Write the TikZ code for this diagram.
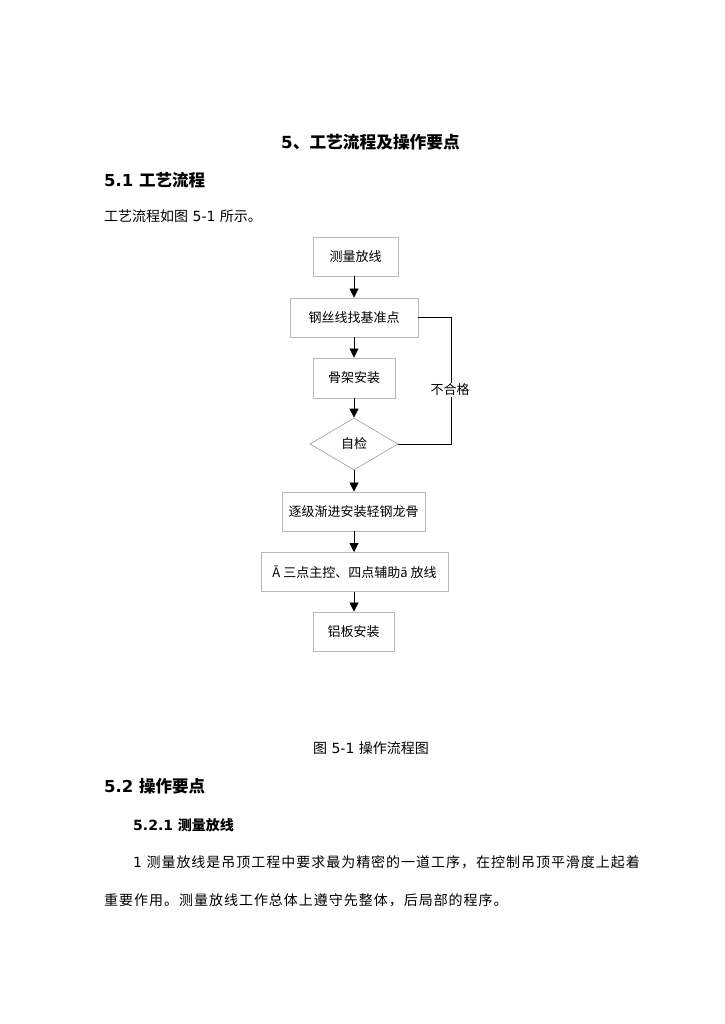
\documentclass[tikz,border=0pt]{standalone}
\usepackage{fontspec}
\setmainfont{DejaVu Sans}
\newfontfamily\cjk{Noto Sans CJK SC}
\newfontfamily\cjkp[LetterSpace=7]{Noto Sans CJK SC}
\usetikzlibrary{arrows.meta,shapes.geometric}
\begin{document}
\begin{tikzpicture}[x=1pt,y=-1pt,
  stepbox/.style={draw=black!28,line width=0.9pt,rectangle,minimum height=39pt,inner sep=0pt,font=\fontsize{13}{15}\selectfont\cjk},
  decbox/.style={draw=black!35,line width=0.7pt,diamond,minimum width=88pt,minimum height=52pt,inner sep=0pt,font=\fontsize{13}{15}\selectfont\cjk},
  flow/.style={draw=black,line width=0.8pt,-{Triangle[width=9pt,length=9pt]}},
  loopline/.style={draw=black,line width=0.8pt},
  heading/.style={anchor=west,inner sep=0pt},
  body/.style={anchor=west,inner sep=0pt,font=\fontsize{14}{16}\selectfont}]
\useasboundingbox[fill=white] (0,0) rectangle (724,1024);
% texts
\node[inner sep=0pt,font=\fontsize{16.7}{18}\selectfont\bfseries] (title) at (370.5,142) {5{\cjk\bfseries 、工艺流程及操作要点}};
\node[heading,font=\fontsize{16.5}{18}\selectfont\bfseries] (h51) at (104,180) {5.1 {\cjk\bfseries 工艺流程}};
\node[body] (p1) at (104,216) {{\cjk 工艺流程如图} 5-1 {\cjk 所示。}};
% flowchart
\node[stepbox,minimum width=85pt] (b1) at (355.5,256.5) {测量放线};
\node[stepbox,minimum width=128pt] (b2) at (354,317.5) {钢丝线找基准点};
\node[stepbox,minimum width=82pt,minimum height=40pt] (b3) at (354,378) {骨架安装};
\node[decbox] (d4) at (354,444) {自检};
\node[stepbox,minimum width=143pt] (b5) at (353.5,511.5) {逐级渐进安装轻钢龙骨};
\node[stepbox,minimum width=187pt] (b6) at (354.5,572) {Ā 三点主控、四点辅助ā 放线};
\node[stepbox,minimum width=81pt] (b7) at (353.5,631.5) {铝板安装};
\draw[flow] (b1.south -| d4) -- (b2.north -| d4);
\draw[flow] (b2.south -| d4) -- (b3.north -| d4);
\draw[flow] (b3.south -| d4) -- (d4.north);
\draw[flow] (d4.south) -- (b5.north -| d4);
\draw[flow] (b5.south -| d4) -- (b6.north -| d4);
\draw[flow] (b6.south -| d4) -- (b7.north -| d4);
\coordinate (c1) at (451,317.5);
\coordinate (c2) at (451,444);
\draw[loopline] (b2.east) -- (c1) -- (c2) -- (d4.east);
\node[fill=white,inner sep=1pt,font=\fontsize{13}{15}\selectfont\cjk] (ng) at (450,390) {不合格};
% caption and text
\node[inner sep=0pt,font=\fontsize{14}{16}\selectfont] (cap) at (371,748) {{\cjk 图} 5-1 {\cjk 操作流程图}};
\node[heading,font=\fontsize{16.5}{18}\selectfont\bfseries] (h52) at (104,786) {5.2 {\cjk\bfseries 操作要点}};
\node[heading,font=\fontsize{14}{16}\selectfont\bfseries] (h521) at (133,825) {5.2.1 {\cjk\bfseries 测量放线}};
\node[body] (l1) at (133,862) {1 {\cjkp 测量放线是吊顶工程中要求最为精密的一道工序，在控制吊顶平滑度上起着}};
\node[body] (l2) at (104,900) {{\cjkp 重要作用。测量放线工作总体上遵守先整体，后局部的程序。}};
\end{tikzpicture}
\end{document}
